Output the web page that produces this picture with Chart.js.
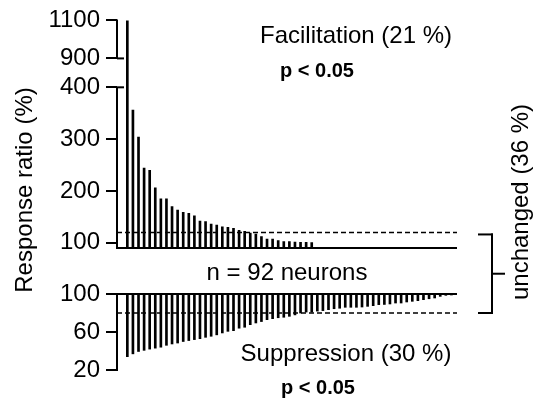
<!DOCTYPE html>
<html>
<head>
<meta charset="utf-8">
<script src="https://cdn.jsdelivr.net/npm/chart.js@4.4.0/dist/chart.umd.min.js"></script>
<style>
  html, body { margin: 0; padding: 0; background: #fff; }
  #lienzo { position: relative; width: 534px; height: 401px; }
  #lienzo canvas { position: absolute; left: 0; top: 0; }
</style>
</head>
<body>
<div id="lienzo">
  <canvas id="arriba" width="534" height="401"></canvas>
  <canvas id="abajo" width="534" height="401"></canvas>
</div>
<script>
// Datos (neuronas ordenadas)
const facilitacion = [1100, 356, 304, 244, 240, 206, 185, 185, 170, 163, 159, 157, 152, 142, 141, 136, 134,
  131, 130, 128, 124, 122, 119, 117, 112, 107, 107, 104.5, 102.5, 102.5, 101.5, 101, 101, 100.5];
const supresion = [34, 37, 39.5, 40.7, 42, 43, 44, 46, 47.4, 48.4, 50, 51, 52, 53, 54.4, 55.5, 57, 59, 60.7, 61.4,
  64, 65, 67.7, 69.5, 71, 73, 74, 75, 75.5, 76.5, 78, 80, 81, 81, 82, 82.5, 83.5, 84.5, 85, 86,
  86, 86, 86.3, 87, 87.7, 88.8, 89, 89.5, 90.5, 90.5, 91.6, 92.3, 93, 94, 95, 95.8, 97.5, 98.6, 99.3];
const ticksArriba = [100, 200, 300, 400, 900, 1100];
const ticksAbajo = [20, 60, 100];
const umbralArriba = 120;
const umbralAbajo = 80;

// Eje cortado: tramo 90-400 y tramo 900-1100
const tramoBajo = [90, 400];
const tramoAlto = [900, 1100];
const parteBajo = 0.706;
const parteHueco = 0.127;

Chart.defaults.font.family = "'Liberation Sans', Arial, sans-serif";
Chart.defaults.color = '#000';

class EscalaCortada extends Chart.LinearScale {
  aDecimal(v) {
    if (v <= tramoBajo[1]) return (v - tramoBajo[0]) / (tramoBajo[1] - tramoBajo[0]) * parteBajo;
    if (v < tramoAlto[0]) return parteBajo + (v - tramoBajo[1]) / (tramoAlto[0] - tramoBajo[1]) * parteHueco;
    return parteBajo + parteHueco + (v - tramoAlto[0]) / (tramoAlto[1] - tramoAlto[0]) * (1 - parteBajo - parteHueco);
  }
  getPixelForValue(v) {
    if (v === null || v === undefined) return NaN;
    return this.getPixelForDecimal(this.aDecimal(v));
  }
  getValueForPixel(p) {
    var d = this.getDecimalForPixel(p);
    if (d <= parteBajo) return tramoBajo[0] + d / parteBajo * (tramoBajo[1] - tramoBajo[0]);
    if (d < parteBajo + parteHueco) return tramoBajo[1] + (d - parteBajo) / parteHueco * (tramoAlto[0] - tramoBajo[1]);
    return tramoAlto[0] + (d - parteBajo - parteHueco) / (1 - parteBajo - parteHueco) * (tramoAlto[1] - tramoAlto[0]);
  }
}
EscalaCortada.id = 'cortada';
EscalaCortada.defaults = {};
Chart.register(EscalaCortada);

function linea(ctx, x1, y1, x2, y2, ancho, guiones) {
  ctx.save();
  ctx.strokeStyle = '#000';
  ctx.lineWidth = ancho;
  ctx.setLineDash(guiones || []);
  ctx.beginPath();
  ctx.moveTo(x1, y1);
  ctx.lineTo(x2, y2);
  ctx.stroke();
  ctx.restore();
}

function texto(ctx, t, x, y, fuente, giro) {
  ctx.save();
  ctx.translate(x, y);
  if (giro) ctx.rotate(giro);
  ctx.font = fuente;
  ctx.fillStyle = '#000';
  ctx.textAlign = 'center';
  ctx.textBaseline = 'middle';
  ctx.fillText(t, 0, 0);
  ctx.restore();
}

const familia = "'Liberation Sans', Arial, sans-serif";

// sin separador de miles
function etiqueta(v) { return String(v); }

// Ejes, umbral y textos del panel de arriba
const dibujoArriba = {
  id: 'dibujoArriba',
  afterDraw(chart) {
    const ctx = chart.ctx, a = chart.chartArea, y = chart.scales.y;
    const x0 = a.left;
    linea(ctx, x0, y.getPixelForValue(tramoBajo[1]), x0, a.bottom + 1, 2);
    linea(ctx, x0 - 1, a.bottom, a.right, a.bottom, 2);
    linea(ctx, x0, y.getPixelForValue(tramoBajo[1]), x0 + 7, y.getPixelForValue(tramoBajo[1]), 2);
    linea(ctx, x0, y.getPixelForValue(tramoAlto[1]) - 1, x0, y.getPixelForValue(tramoAlto[0]), 2);
    linea(ctx, x0, y.getPixelForValue(tramoAlto[0]), x0 + 7, y.getPixelForValue(tramoAlto[0]), 2);
    linea(ctx, x0, y.getPixelForValue(umbralArriba), a.right, y.getPixelForValue(umbralArriba), 1.5, [5, 3]);

    texto(ctx, 'Facilitation (21 %)', 356, 36, '24px ' + familia);
    texto(ctx, 'p < 0.05', 317, 71, 'bold 20px ' + familia);
    texto(ctx, 'Response ratio (%)', 25, 190, '24px ' + familia, -Math.PI / 2);
  }
};

const graficoArriba = new Chart(document.getElementById('arriba'), {
  type: 'bar',
  data: {
    datasets: [{
      data: facilitacion.map(function(v, i) { return { x: i + 1, y: v }; }),
      backgroundColor: '#000',
      borderWidth: 0,
      barThickness: 2,
      base: tramoBajo[0]
    }]
  },
  options: {
    responsive: false,
    animation: false,
    layout: { padding: { top: 20, right: 77, bottom: 153, left: 0 } },
    plugins: { legend: { display: false }, tooltip: { enabled: false } },
    scales: {
      x: { type: 'linear', min: -0.85, max: 60, offset: false, display: false },
      y: {
        type: 'cortada',
        min: tramoBajo[0],
        max: tramoAlto[1],
        afterFit: function(s) { s.width = 117; },
        afterBuildTicks: function(s) { s.ticks = ticksArriba.map(function(v) { return { value: v }; }); },
        border: { display: false },
        grid: { drawOnChartArea: false, tickLength: 11, color: '#000', lineWidth: 2 },
        ticks: { autoSkip: false, padding: 6, color: '#000', font: { size: 24 }, callback: etiqueta }
      }
    }
  },
  plugins: [dibujoArriba]
});

// Ejes, umbral, corchete y textos del panel de abajo
const dibujoAbajo = {
  id: 'dibujoAbajo',
  afterDraw(chart) {
    const ctx = chart.ctx, a = chart.chartArea, y = chart.scales.y;
    const x0 = a.left;
    const y100 = y.getPixelForValue(100);
    linea(ctx, x0, y100 - 1, x0, y.getPixelForValue(20) + 1, 2);
    linea(ctx, x0, y100, a.right, y100, 2);
    linea(ctx, x0, y.getPixelForValue(umbralAbajo), a.right, y.getPixelForValue(umbralAbajo), 1.5, [5, 3]);

    // corchete "unchanged"
    const yA = graficoArriba.scales.y.getPixelForValue(umbralArriba) + 2;
    const yB = y.getPixelForValue(umbralAbajo);
    linea(ctx, 478, yA, 493, yA, 2);
    linea(ctx, 492, yA - 1, 492, yB + 1, 2);
    linea(ctx, 478, yB, 493, yB, 2);
    linea(ctx, 492, (yA + yB) / 2, 505, (yA + yB) / 2, 2);
    texto(ctx, 'unchanged (36 %)', 521, 202, '24px ' + familia, -Math.PI / 2);

    texto(ctx, 'n = 92 neurons', 287, 273, '24px ' + familia);
    texto(ctx, 'Suppression (30 %)', 346, 354, '24px ' + familia);
    texto(ctx, 'p < 0.05', 318, 388, 'bold 20px ' + familia);
  }
};

const graficoAbajo = new Chart(document.getElementById('abajo'), {
  type: 'bar',
  data: {
    datasets: [{
      data: supresion.map(function(v, i) { return { x: i + 1, y: v }; }),
      backgroundColor: '#000',
      borderWidth: 0,
      barThickness: 2,
      base: 100
    }]
  },
  options: {
    responsive: false,
    animation: false,
    layout: { padding: { top: 294, right: 77, bottom: 31, left: 0 } },
    plugins: { legend: { display: false }, tooltip: { enabled: false } },
    scales: {
      x: { type: 'linear', min: -0.85, max: 60, offset: false, display: false },
      y: {
        type: 'linear',
        min: 20,
        max: 100,
        afterFit: function(s) { s.width = 117; },
        afterBuildTicks: function(s) { s.ticks = ticksAbajo.map(function(v) { return { value: v }; }); },
        border: { display: false },
        grid: { drawOnChartArea: false, tickLength: 11, color: '#000', lineWidth: 2 },
        ticks: { autoSkip: false, padding: 6, color: '#000', font: { size: 24 }, callback: etiqueta }
      }
    }
  },
  plugins: [dibujoAbajo]
});
</script>
</body>
</html>
